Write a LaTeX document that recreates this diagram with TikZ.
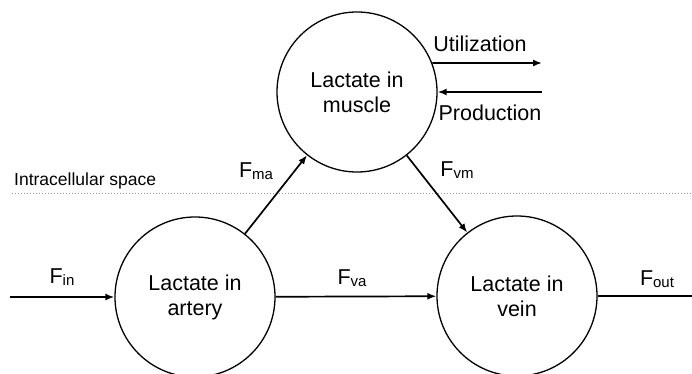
\documentclass[tikz,border=0pt]{standalone}
\usepackage{fontspec}
\setmainfont{Liberation Sans}
\usetikzlibrary{arrows.meta}
\newcommand{\Flab}[1]{F\raisebox{-2.5pt}{\fontsize{15}{15}\selectfont #1}}
\begin{document}
\begin{tikzpicture}[x=1pt,y=-1pt,
  pool/.style={circle,draw,line width=1.3pt,minimum size=160pt,inner sep=0pt,align=center,font=\fontsize{21.5}{25}\selectfont},
  flow/.style={line width=1.7pt,-{Latex[length=9pt,width=7pt]}},
  plainflow/.style={line width=1.7pt},
  lab/.style={inner sep=0pt,font=\fontsize{21.5}{25}\selectfont},
  small/.style={inner sep=0pt,font=\fontsize{17.5}{20}\selectfont}]
\useasboundingbox (0,0) rectangle (692,374);
\node[pool] (muscle) at (357,92) {Lactate in\\muscle};
\node[pool] (artery) at (195,297) {Lactate in\\artery};
\node[pool] (vein) at (517,296) {Lactate in\\vein};
\coordinate (inStart) at (10,297);
\coordinate (outEnd) at (692,296);
\coordinate (utilEnd) at (542,63);
\coordinate (prodStart) at (542,92);
\coordinate (dotL) at (12,193);
\coordinate (dotR) at (692,193);
\draw[gray!80,line width=1pt,dash pattern=on 1pt off 2pt] (dotL) -- (dotR);
\node[small,anchor=west] (intra) at (14,181) {Intracellular space};
\draw[flow] (inStart) -- (artery);
\draw[flow] (artery) -- (vein);
\draw[plainflow] (vein) -- (outEnd);
\draw[flow] (artery) -- (muscle);
\draw[flow] (muscle) -- (vein);
\draw[flow] (muscle.21) -- (utilEnd);
\draw[flow] (prodStart) -- (muscle.east |- prodStart);
\node[lab] (util) at (480,44) {Utilization};
\node[lab] (prod) at (490,113) {Production};
\node[lab] (fin) at (62,277) {\Flab{in}};
\node[lab] (fva) at (352,278) {\Flab{va}};
\node[lab] (fout) at (657,279) {\Flab{out}};
\node[lab] (fma) at (256,171) {\Flab{ma}};
\node[lab] (fvm) at (457,170) {\Flab{vm}};
\end{tikzpicture}
\end{document}
